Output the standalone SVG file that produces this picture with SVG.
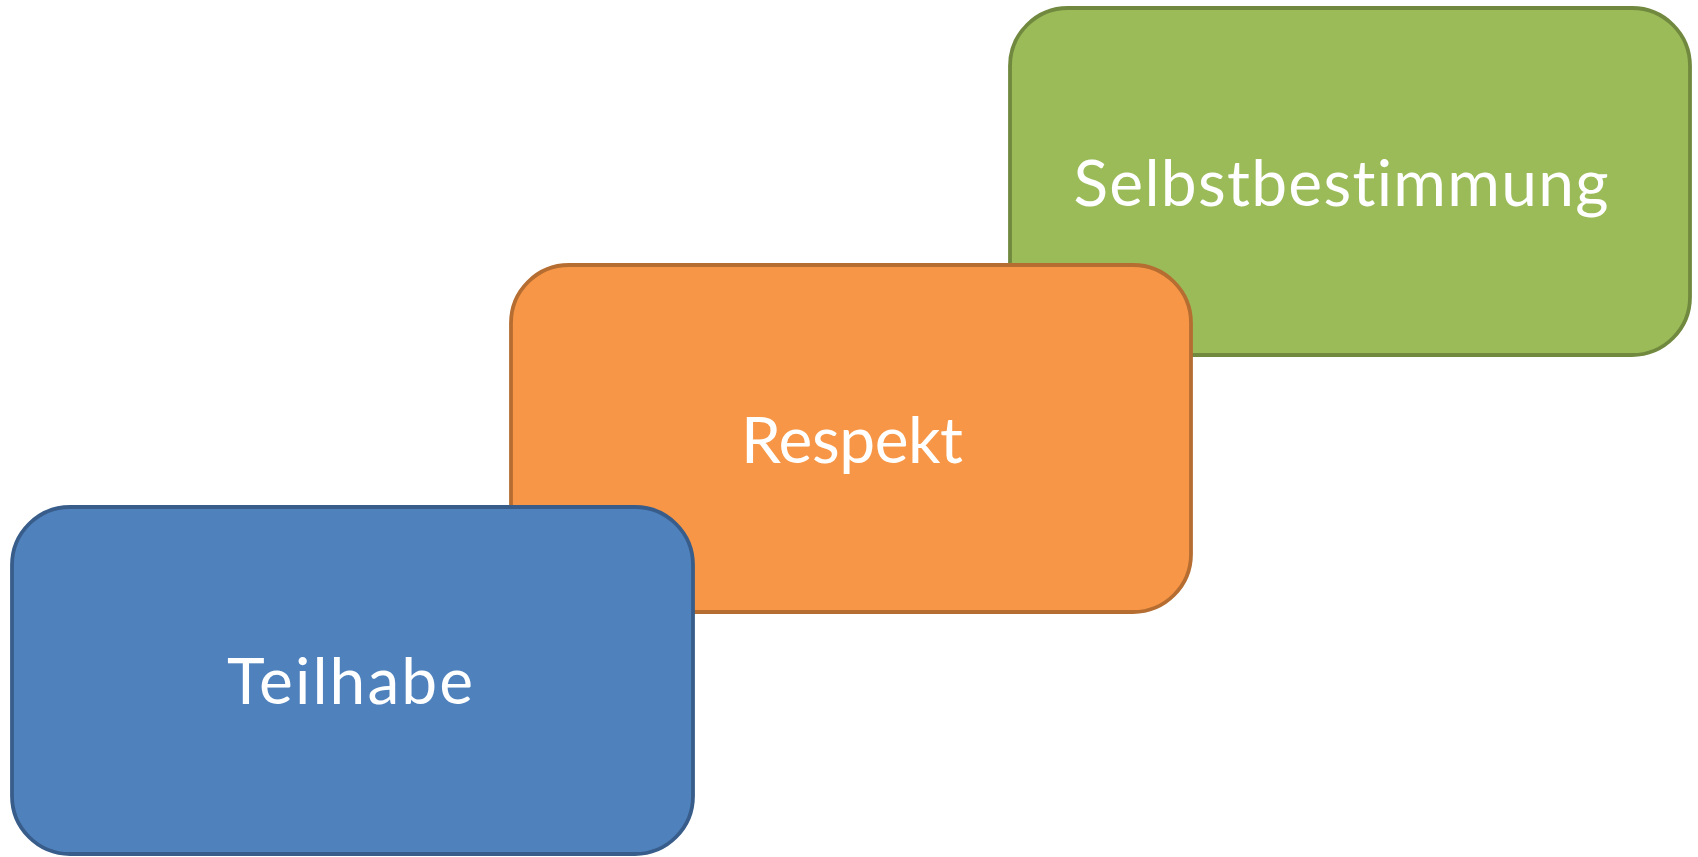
<svg xmlns="http://www.w3.org/2000/svg" width="1698" height="857" viewBox="0 0 1698 857">
  <style>
    .box { stroke-width: 3.8; }
    .lbl { font-family: Lato, "Open Sans", "Liberation Sans", sans-serif; font-size: 64px; fill: #FFFFFF; text-anchor: middle; font-variant-ligatures: none; font-feature-settings: "liga" 0, "dlig" 0; }
  </style>
  <rect width="1698" height="857" fill="#FFFFFF"/>
  <g id="connectors"></g>
  <g id="selbstbestimmung">
    <rect class="box" x="1010" y="8" width="680" height="347" rx="58" ry="58" fill="#9BBB59" stroke="#71893F"/>
    <text class="lbl" x="1341" y="206" textLength="535">Selbstbestimmung</text>
  </g>
  <g id="respekt">
    <rect class="box" x="511" y="265" width="680" height="347" rx="58" ry="58" fill="#F79646" stroke="#B66D31"/>
    <text class="lbl" x="852" y="463" textLength="222">Respekt</text>
  </g>
  <g id="teilhabe">
    <rect class="box" x="12" y="507" width="681" height="347" rx="58" ry="58" fill="#4F81BD" stroke="#385D8A"/>
    <text class="lbl" x="350" y="704" textLength="246">Teilhabe</text>
  </g>
</svg>
